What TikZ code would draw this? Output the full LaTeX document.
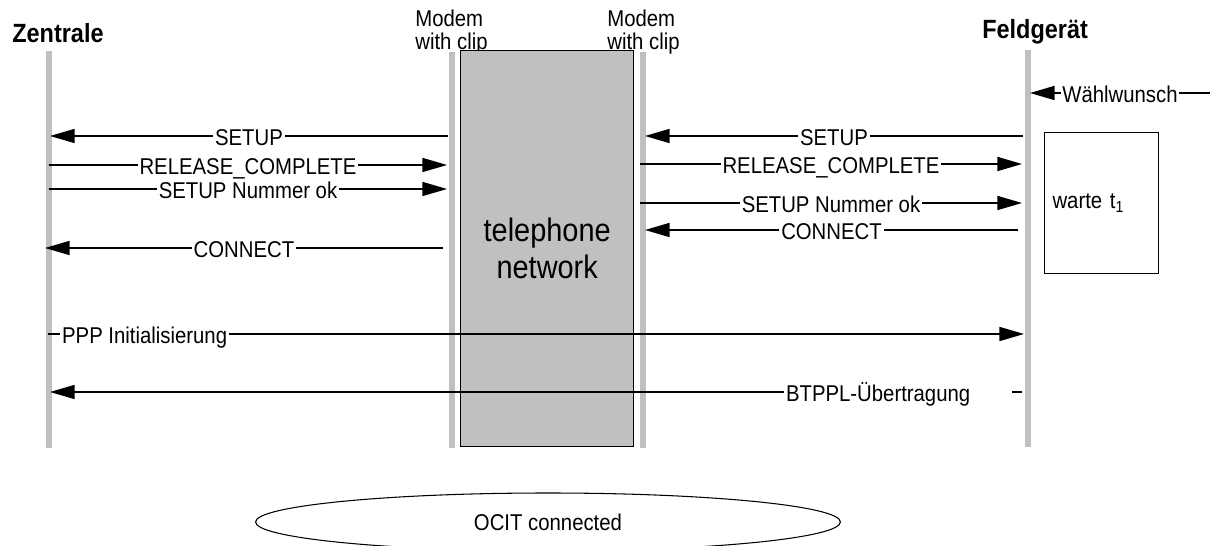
\documentclass[tikz,border=0pt]{standalone}
\usepackage{fontspec}
\setmainfont{Liberation Sans}[FakeStretch=0.89]
\usetikzlibrary{arrows.meta,shapes.geometric}
\definecolor{lifegray}{RGB}{192,192,192}

\begin{document}
\begin{tikzpicture}[x=0.02cm, y=-0.02cm, font=\fontsize{13}{13}\selectfont,
    msg/.style={line width=0.8pt, -{Triangle[length=14pt,width=8pt]}},
    msglabel/.style={fill=white, inner xsep=1pt, inner ysep=0pt, text height=9pt, text depth=0pt, yshift=-1.1pt},
    lifeline/.style={draw=lifegray, line width=3.4pt},
    head/.style={font=\fontsize{15}{17}\selectfont\bfseries, anchor=base west, inner sep=0pt}]
	\useasboundingbox (0,0) rectangle (1215,546);
	% lifelines
	\draw[lifeline] (49,51) -- (49,448);
	\draw[lifeline] (452,52) -- (452,448);
	\draw[lifeline] (643,52) -- (643,448);
	\draw[lifeline] (1028,50) -- (1028,447);
	\node[head] (zen) at (12,43) {Zentrale};
	\node[head] (feld) at (982,39) {Feldgerät};
	\node[align=left, anchor=north west, inner sep=0pt] (modemL) at (415,10) {Modem\\with clip};
	\node[align=left, anchor=north west, inner sep=0pt] (modemR) at (607,10) {Modem\\with clip};
	\node[draw, fill=lifegray, line width=0.8pt, anchor=north west, minimum width=3.46cm, minimum height=7.92cm,
	  align=center, font=\fontsize{18.5}{21}\selectfont] (net) at (460,50) {telephone\\network};
	\node[draw, line width=0.6pt, anchor=north west, minimum height=2.82cm, text width=1.96cm,
	  inner xsep=0.16cm, align=left] (warte) at (1044,132) {warte t\textsubscript{1}};
	% Zentrale -- Modem
	\coordinate (zA) at (50,136);  \coordinate (mA) at (448,136);
	\coordinate (zB) at (49,165);  \coordinate (mB) at (447,165);
	\coordinate (zC) at (49,189);  \coordinate (mC) at (447,189);
	\coordinate (zD) at (45,248);  \coordinate (mD) at (443,248);
	\draw[msg] (mA) -- node[msglabel] {SETUP} (zA);
	\draw[msg] (zB) -- node[msglabel] {RELEASE\_COMPLETE} (mB);
	\draw[msg] (zC) -- node[msglabel] {SETUP Nummer ok} (mC);
	\draw[msg] (mD) -- node[msglabel] {CONNECT} (zD);
	% Modem -- Feldgeraet
	\coordinate (nA) at (645,136);  \coordinate (fA) at (1023,136);
	\coordinate (nB) at (640,164);  \coordinate (fB) at (1022,164);
	\coordinate (nC) at (640,203);  \coordinate (fC) at (1022,203);
	\coordinate (nD) at (645,230);  \coordinate (fD) at (1018,230);
	\draw[msg] (fA) -- node[msglabel] {SETUP} (nA);
	\draw[msg] (nB) -- node[msglabel] {RELEASE\_COMPLETE} (fB);
	\draw[msg] (nC) -- node[msglabel] {SETUP Nummer ok} (fC);
	\draw[msg] (fD) -- node[msglabel] {CONNECT} (nD);
	\coordinate (wA) at (1210,93);  \coordinate (fW) at (1030,93);
	\draw[msg] (wA) -- node[msglabel] {Wählwunsch} (fW);
	% end to end
	\coordinate (zP) at (48,334);  \coordinate (fP) at (1024,334);
	\coordinate (fT) at (1022,392);  \coordinate (zT) at (50,392);
	\draw[msg] (zP) -- node[msglabel, pos=0.012, anchor=west] {PPP Initialisierung} (fP);
	\draw[msg] (fT) -- node[msglabel, pos=0.0093, anchor=east, text width=4.49cm, align=left] {BTPPL-Übertragung} (zT);
	\node[draw, ellipse, line width=0.6pt, minimum width=11.7cm, minimum height=1.16cm] (ocit) at (548,522) {OCIT connected};
\end{tikzpicture}
\end{document}
